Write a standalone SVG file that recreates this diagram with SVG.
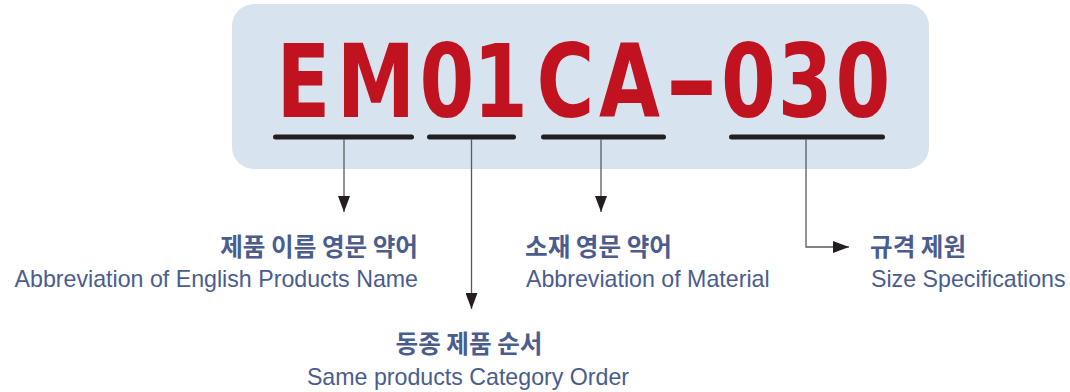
<svg xmlns="http://www.w3.org/2000/svg" width="1070" height="392" viewBox="0 0 1070 392">
  <defs>
    <style>
      .code { font-family: "DejaVu Sans", sans-serif; font-weight: bold; font-size: 101px; fill: #c1121f; text-anchor: middle; }
      .bar { stroke: #231f20; stroke-width: 5; stroke-linecap: round; fill: none; }
      .conn { stroke: #5a5b5d; stroke-width: 1.3; fill: none; marker-end: url(#ah); }
      .ko { font-family: "Noto Sans CJK KR", "Noto Sans", sans-serif; font-weight: bold; font-size: 24.6px; fill: #4a5d8e; }
      .en { font-family: "Liberation Sans", Arial, sans-serif; font-size: 23.2px; fill: #4a5d8e; }
    </style>
    <marker id="ah" markerUnits="userSpaceOnUse" viewBox="0 0 16 12" refX="16" refY="6" markerWidth="16" markerHeight="12" orient="auto">
      <path d="M0,0 L16,6 L0,12 Z" fill="#231f20"/>
    </marker>
  </defs>

  <g id="code-box">
    <rect x="232" y="4" width="697" height="165" rx="22" ry="22" fill="#d7e3ef"/>
    <text class="code" transform="scale(0.78,1)" y="117"><tspan x="389.1 482.1 573.1 641.7 725 807.1">EM01CA</tspan><tspan x="886.5" textLength="70" lengthAdjust="spacingAndGlyphs">-</tspan><tspan x="959.6 1032.1 1106.4">030</tspan></text>
    <line class="bar" x1="275.5" y1="137" x2="411.5" y2="137"/>
    <line class="bar" x1="429.5" y1="137" x2="513.5" y2="137"/>
    <line class="bar" x1="543.5" y1="137" x2="663.5" y2="137"/>
    <line class="bar" x1="731.5" y1="137" x2="882.5" y2="137"/>
  </g>

  <g id="connectors">
    <path class="conn" d="M344,139 V212"/>
    <path class="conn" d="M471.5,139 V309"/>
    <path class="conn" d="M601,139 V212"/>
    <path class="conn" d="M806,139 V247 H849"/>
  </g>

  <g id="node-name">
    <text class="ko" x="418" y="256" text-anchor="end">제품 이름 영문 약어</text>
    <text class="en" x="418" y="287" text-anchor="end">Abbreviation of English Products Name</text>
  </g>

  <g id="node-material">
    <text class="ko" x="525" y="256">소재 영문 약어</text>
    <text class="en" x="526" y="287">Abbreviation of Material</text>
  </g>

  <g id="node-size">
    <text class="ko" x="870" y="256">규격 제원</text>
    <text class="en" x="871" y="287">Size Specifications</text>
  </g>

  <g id="node-order">
    <text class="ko" x="469" y="353" text-anchor="middle">동종 제품 순서</text>
    <text class="en" x="468" y="385" text-anchor="middle">Same products Category Order</text>
  </g>
</svg>
